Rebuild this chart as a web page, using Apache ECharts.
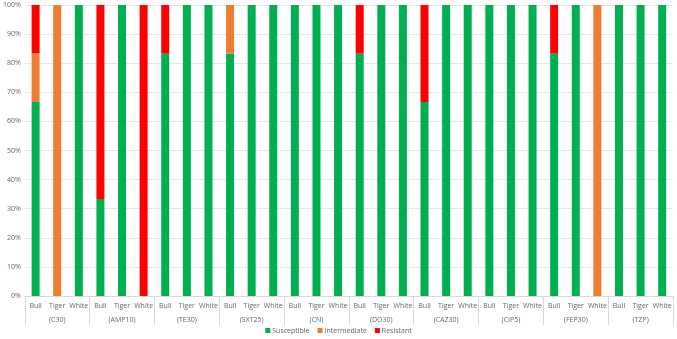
<!DOCTYPE html>
<html><head><meta charset="utf-8">
<script src="https://cdn.jsdelivr.net/npm/echarts@6/dist/echarts.min.js"></script>
<style>html,body{margin:0;padding:0;background:#fff}#c{width:677px;height:339px}</style>
</head><body><div id="c"></div>
<script>
var groups = ['(C30)','(AMP10)','(TE30)','(SXT25)','(CN)','(DO30)','(CAZ30)','(CIP5)','(FEP30)','(TZP)'];
var animals = ['Bull','Tiger','White'];
// per bar, in order group-major (Bull, Tiger, White for each group)
var susceptible = [66.7,0,100, 33.3,100,0, 83.3,100,100, 83.3,100,100, 100,100,100, 83.3,100,100, 66.7,100,100, 100,100,100, 83.3,100,0, 100,100,100];
var intermediate = [16.7,100,0, 0,0,0, 0,0,0, 16.7,0,0, 0,0,0, 0,0,0, 0,0,0, 0,0,0, 0,0,100, 0,0,0];
var resistant = [16.6,0,0, 66.7,0,100, 16.7,0,0, 0,0,0, 0,0,0, 16.7,0,0, 33.3,0,0, 0,0,0, 16.7,0,0, 0,0,0];

var cats = [];
groups.forEach(function(g){ animals.forEach(function(a){ cats.push(a); }); });
var txt = '#666666', font = 'Open Sans';
var chart = echarts.init(document.getElementById('c'));
chart.setOption({
  animation:false,
  textStyle:{fontFamily:font},
  grid:{left:23,right:4,top:5,bottom:43},
  legend:{bottom:0,left:'center',itemWidth:5,itemHeight:5,itemGap:8,icon:'rect',
    textStyle:{fontSize:7,color:txt,fontFamily:font,padding:[0,0,0,-3]},
    data:['Susceptible','Intermediate','Resistant']},
  xAxis:[{
    type:'category',data:cats,position:'bottom',
    axisLine:{lineStyle:{color:'#d9d9d9'}},axisTick:{show:false},
    axisLabel:{fontSize:7,color:txt,interval:0,margin:6,fontFamily:font}
  },{
    type:'category',data:groups,position:'bottom',gridIndex:0,
    axisLine:{show:false},
    axisTick:{show:true,length:29,interval:0,lineStyle:{color:'#d9d9d9'}},
    axisLabel:{fontSize:7,color:txt,interval:0,margin:20,fontFamily:font}
  }],
  yAxis:{type:'value',min:0,max:100,interval:10,
    axisLabel:{formatter:'{value}%',fontSize:7,color:txt,margin:4,fontFamily:font},
    splitLine:{lineStyle:{color:'#e6e6e6'}},axisLine:{show:false},axisTick:{show:false}},
  series:[
    {name:'Susceptible',type:'bar',stack:'s',data:susceptible,barWidth:8,itemStyle:{color:'#00B050'}},
    {name:'Intermediate',type:'bar',stack:'s',data:intermediate,barWidth:8,itemStyle:{color:'#ED7D31'}},
    {name:'Resistant',type:'bar',stack:'s',data:resistant,barWidth:8,itemStyle:{color:'#FF0000'}}
  ]
});
</script></body></html>
